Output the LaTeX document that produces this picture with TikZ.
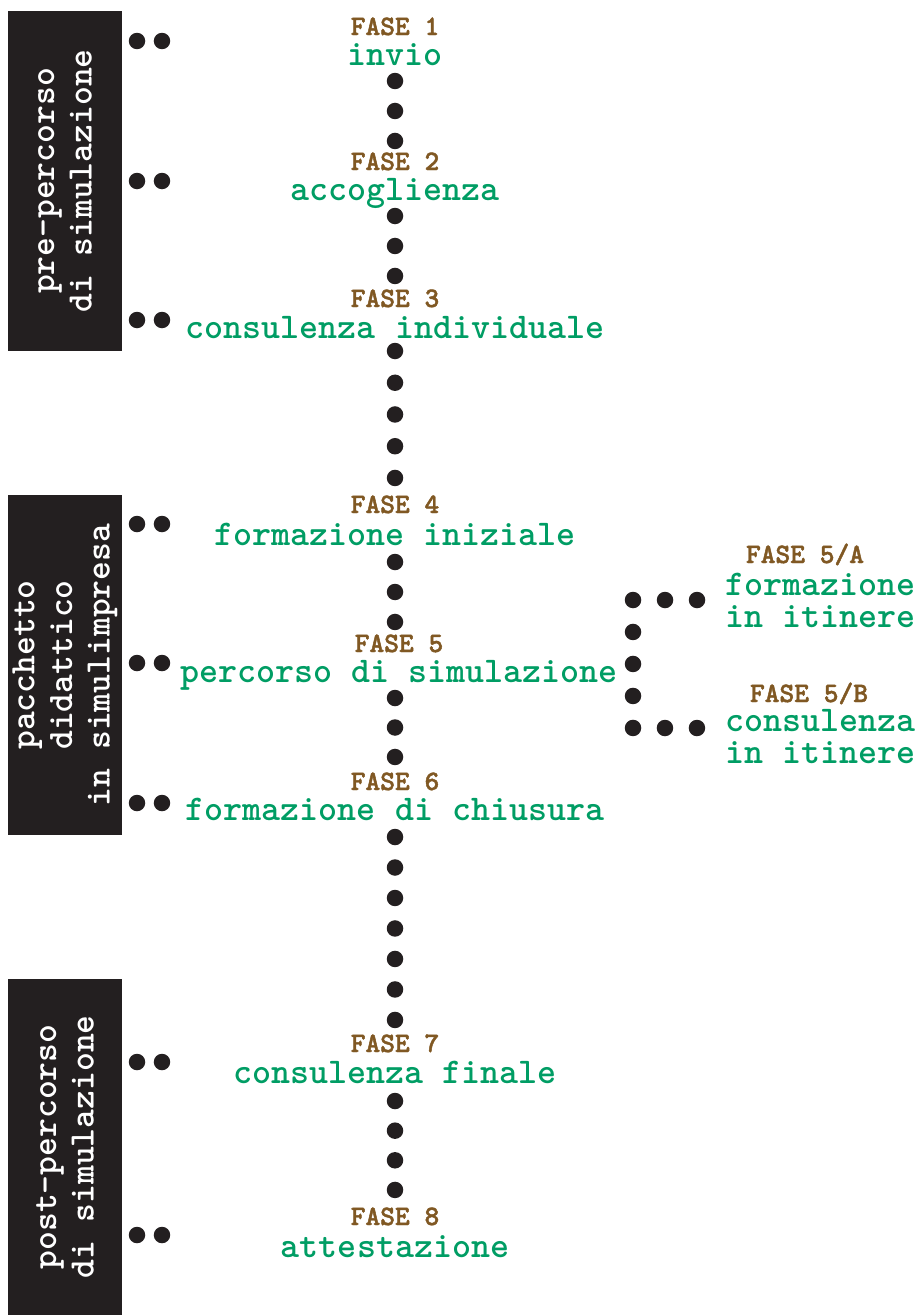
\documentclass[tikz,border=0pt]{standalone}
\usepackage{fontspec}
\newfontfamily\fasefont{lmmonolt10-bold.otf}[FakeBold=1.6]
\usetikzlibrary{positioning}
\definecolor{ink}{RGB}{35,31,32}
\definecolor{fasegreen}{RGB}{0,157,100}
\definecolor{fasebrown}{RGB}{128,88,35}
\begin{document}
\begin{tikzpicture}[
        x=0.02cm, y=-0.02cm,
        faselabel/.style={anchor=base, inner sep=0pt, text=fasebrown,
            font=\fasefont\fontsize{16}{16}\selectfont},
        phase/.style={anchor=base, inner sep=0pt, text=fasegreen,
            font=\ttfamily\bfseries\fontsize{20.6}{18.1}\selectfont},
        sidephase/.style={phase, anchor=base west, align=left},
        band/.style={
            fill=ink, text=white, rotate=90, align=center,
            minimum height=2.28cm, inner sep=0pt,
            font=\ttfamily\bfseries\fontsize{20.4}{21.4}\selectfont
        },
        dotline/.style={draw=ink, line width=0.33cm, line cap=round,
            dash pattern=on 0pt off #1},
        dotline/.default=0.6cm
    ]
    \useasboundingbox (0,0) rectangle (920,1315);

    % 1. Bande laterali
    \node[band, minimum width=6.8cm] (pre) at (65,181) {pre-percorso\\di simulazione};
    \node[band, minimum width=6.8cm] (pacchetto) at (65,665) {pacchetto\\didattico\\in simulimpresa};
    \node[band, minimum width=6.72cm] (post) at (65,1147) {post-percorso\\di simulazione};

    % 2. Puntini accanto alle bande
    \foreach \y [count=\i] in {41,181,320,524,663,803,1062,1235} {
        \coordinate (l\i) at (137,\y);
        \draw[dotline=0.5cm] (l\i) -- ++(27,0);
    }

    % 3. Fasi sulla colonna centrale
    \node[faselabel] (f1) at (395,35) {FASE 1};
    \node[phase] (p1) at (395,65) {invio};
    \node[faselabel] (f2) at (395,170) {FASE 2};
    \node[phase] (p2) at (395,200) {accoglienza};
    \node[faselabel] (f3) at (395,307) {FASE 3};
    \node[phase] (p3) at (395,338) {consulenza individuale};
    \node[faselabel] (f4) at (395,513) {FASE 4};
    \node[phase] (p4) at (395,545) {formazione iniziale};
    \node[faselabel] (f5) at (399,652) {FASE 5};
    \node[phase] (p5) at (399,682) {percorso di simulazione};
    \node[faselabel] (f6) at (395,790) {FASE 6};
    \node[phase] (p6) at (395,820) {formazione di chiusura};
    \node[faselabel] (f7) at (395,1052) {FASE 7};
    \node[phase] (p7) at (395,1083) {consulenza finale};
    \node[faselabel] (f8) at (395,1225) {FASE 8};
    \node[phase] (p8) at (395,1257) {attestazione};

    % 4. Fasi in itinere (ramo destro)
    \node[faselabel] (f5a) at (805,563) {FASE 5/A};
    \node[sidephase] (p5a) at (725,627) {formazione\\in itinere};
    \node[faselabel] (f5b) at (809,702) {FASE 5/B};
    \node[sidephase] (p5b) at (725,763) {consulenza\\in itinere};

    % 5. Puntini tra le fasi
    \coordinate (c1a) at (395,81);   \coordinate (c1b) at (395,143);
    \coordinate (c2a) at (395,216);  \coordinate (c2b) at (395,278);
    \coordinate (c3a) at (395,351);  \coordinate (c3b) at (395,480);
    \coordinate (c4a) at (395,562);  \coordinate (c4b) at (395,624);
    \coordinate (c5a) at (395,698);  \coordinate (c5b) at (395,759);
    \coordinate (c6a) at (395,837);  \coordinate (c6b) at (395,1022);
    \coordinate (c7a) at (395,1101); \coordinate (c7b) at (395,1192);
    \draw[dotline] (c1a) -- (c1b);
    \draw[dotline] (c2a) -- (c2b);
    \draw[dotline=0.635cm] (c3a) -- (c3b);
    \draw[dotline] (c4a) -- (c4b);
    \draw[dotline=0.59cm] (c5a) -- (c5b);
    \draw[dotline=0.61cm] (c6a) -- (c6b);
    \draw[dotline=0.593cm] (c7a) -- (c7b);

    % 6. Ramo verso 5/A e 5/B
    \coordinate (b5a) at (697,600);
    \coordinate (b5b) at (699,728);
    \draw[dotline=0.64cm] (b5a) -- (633,600) -- (633,728) -- (b5b);

\end{tikzpicture}
\end{document}
